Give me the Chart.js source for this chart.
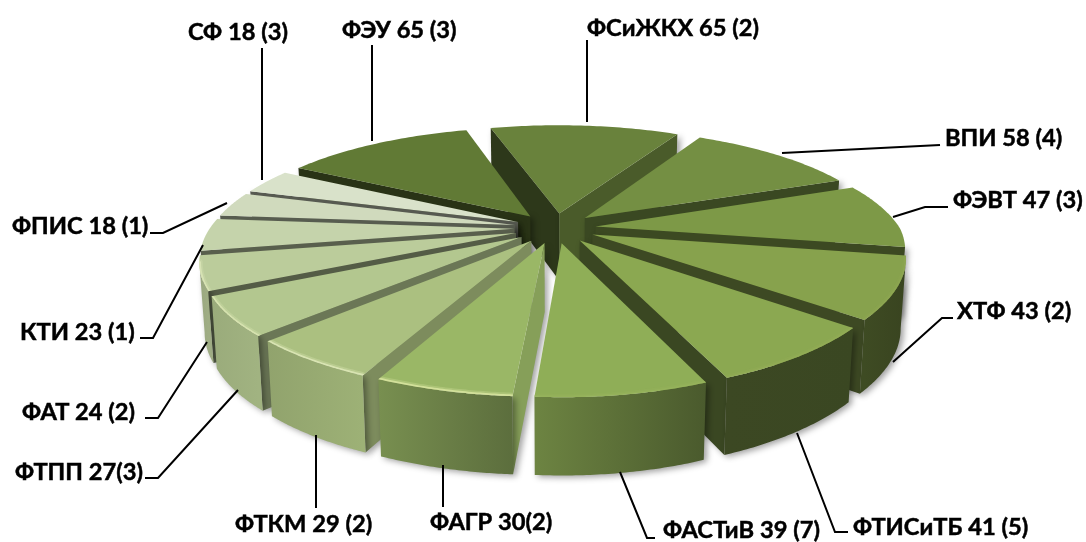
<!DOCTYPE html>
<html lang="ru">
<head>
<meta charset="UTF-8">
<title>Факультеты</title>
<script src="https://cdn.jsdelivr.net/npm/chart.js"></script>
<style>
  html, body { margin: 0; padding: 0; background: #fff; }
  canvas { display: block; }
</style>
</head>
<body>
<canvas id="pie3d" width="1086" height="542"></canvas>
<script>
// clockwise from the top slice
const categories = ["ФСиЖКХ", "ВПИ", "ФЭВТ", "ХТФ", "ФТИСиТБ", "ФАСТиВ", "ФАГР", "ФТКМ", "ФТПП", "ФАТ", "КТИ", "ФПИС", "СФ", "ФЭУ"];
const values = [65, 58, 47, 43, 41, 39, 30, 29, 27, 24, 23, 18, 18, 65];
const labels = ["ФСиЖКХ 65 (2)", "ВПИ 58 (4)", "ФЭВТ 47 (3)", "ХТФ 43 (2)", "ФТИСиТБ 41 (5)", "ФАСТиВ 39 (7)", "ФАГР 30(2)", "ФТКМ 29 (2)", "ФТПП 27(3)", "ФАТ 24 (2)", "КТИ 23 (1)", "ФПИС 18 (1)", "СФ 18 (3)", "ФЭУ 65 (3)"];
const colors = ["#69823c", "#748f43", "#7d9947", "#87a24d", "#8ba851", "#8fae57", "#9ab766", "#abc080", "#b3c78f", "#bbcc9b", "#c5d3ab", "#d0dabd", "#d9e2ca", "#617a35"];

// wall shades as a factor of the slice colour: start edge, end edge, outer left, outer right
const wallShades = [
  [0.43, 0.70, 0.6, 0.6], [0.5, 0.5, 0.5, 0.5], [0.48, 0.48, 0.48, 0.48], [0.45, 0.45, 0.46, 0.42],
  [0.45, 0.42, 0.43, 0.42], [0.6, 0.6, 0.76, 0.52], [0.87, 0.8, 0.78, 0.60], [0.73, 0.8, 0.85, 0.92],
  [0.6, 0.8, 0.86, 0.9], [0.45, 0.8, 0.82, 0.85], [0.45, 0.8, 0.8, 0.82], [0.42, 0.8, 0.8, 0.8],
  [0.4, 0.8, 0.8, 0.8], [0.42, 0.42, 0.42, 0.42]
];
const rimGlow = ["", "", "", "#8ea653", "#93ad57", "#97b35c", "#e2edaa", "#e6eec0", "#e0eab8", "#dfe9bb", "#dde6c4", "", "", ""];

// label text position (left, baseline) and leader line for each slice
const labelPos = [[587, 36], [945, 146], [953, 208], [957, 319], [853, 535], [663, 538], [430, 530], [235, 532], [15, 480], [22, 420], [20, 340], [12, 234], [188, 40], [342, 38]];
const leaders = [
  [[587, 40], [587, 122]], [[940, 145], [782, 153]], [[948, 207], [925, 207], [893, 217]],
  [[953, 318], [942, 318], [893, 362]], [[848, 532], [835, 532], [797, 433]], [[655, 538], [647, 538], [620, 472]],
  [[443, 507], [443, 465]], [[316, 508], [316, 435]], [[145, 478], [158, 478], [238, 390]],
  [[145, 418], [158, 418], [207, 342]], [[140, 338], [153, 338], [203, 245]], [[150, 233], [163, 233], [227, 203]],
  [[262, 48], [262, 180]], [[372, 45], [372, 141]]
];

// screen projection of the flat pie
const CX = 555, CY = 228, A = 345, B = 128, PERSP = 0.245, PERSP_RIGHT = 0.2, DEPTH = 68;

function project(u, v, down) {
  const s = 1 / (1 - PERSP * v);
  // front right side of the original is a bit narrower than the left
  const sx = (u > 0 && v > 0) ? 1 / (1 - PERSP_RIGHT * v) : s;
  const k = down ? 0.985 : 1;
  return {
    x: CX + u * A * sx * k,
    y: CY + v * B * s + (down ? DEPTH * Math.sqrt(s) : 0)
  };
}

function shade(hex, f) {
  const n = parseInt(hex.slice(1), 16);
  const c = [n >> 16, (n >> 8) & 255, n & 255].map(v => Math.min(255, Math.round(v * f)));
  return `rgb(${c[0]},${c[1]},${c[2]})`;
}

function fillPoly(ctx, pts, fill) {
  ctx.beginPath();
  pts.forEach((p, i) => i ? ctx.lineTo(p.x, p.y) : ctx.moveTo(p.x, p.y));
  ctx.closePath();
  ctx.fillStyle = fill;
  ctx.fill();
}

function drawSlice(ctx, arc, i) {
  const { startAngle, endAngle, outerRadius } = arc.getProps(["startAngle", "endAngle", "outerRadius"]);
  const off = arc.options.offset;
  const unit = outerRadius + off;
  const mid = (startAngle + endAngle) / 2;
  // apex in unit coordinates
  const ax = Math.cos(mid) * off / unit, ay = Math.sin(mid) * off / unit;
  const r = outerRadius / unit;
  const rimU = [];
  const steps = 48;
  for (let k = 0; k <= steps; k++) {
    const t = startAngle + (endAngle - startAngle) * k / steps;
    rimU.push([ax + r * Math.cos(t), ay + r * Math.sin(t)]);
  }
  const top = rimU.map(p => project(p[0], p[1], false));
  const bot = rimU.map(p => project(p[0], p[1], true));
  const apexT = project(ax, ay, false), apexB = project(ax, ay, true);
  const color = colors[i], sh = wallShades[i];

  ctx.save();
  ctx.shadowColor = "rgba(0,0,0,0.38)";
  ctx.shadowBlur = 6;
  ctx.shadowOffsetX = 3;
  ctx.shadowOffsetY = 2;

  // side walls, only when they face the viewer
  if (top[0].x < apexT.x) {
    fillPoly(ctx, [apexT, top[0], bot[0], apexB], shade(color, sh[0]));
  }
  if (apexT.x < top[steps].x) {
    fillPoly(ctx, [top[steps], apexT, apexB, bot[steps]], shade(color, sh[1]));
  }

  // visible part of the outer wall
  const vis = [];
  for (let k = 0; k < steps; k++) {
    if (top[k + 1].x < top[k].x) vis.push(k, k + 1);
  }
  if (vis.length) {
    const a = Math.min(...vis), b = Math.max(...vis);
    const grad = ctx.createLinearGradient(top[b].x, 0, top[a].x, 0);
    grad.addColorStop(0, shade(color, sh[2]));
    grad.addColorStop(1, shade(color, sh[3]));
    fillPoly(ctx, top.slice(a, b + 1).concat(bot.slice(a, b + 1).reverse()), grad);
  }
  ctx.restore();

  fillPoly(ctx, [apexT].concat(top), color);

  // bevel along the front rim
  if (rimGlow[i] && vis.length) {
    const a = Math.min(...vis), b = Math.max(...vis);
    ctx.save();
    ctx.beginPath();
    ctx.moveTo(apexT.x, apexT.y);
    top.forEach(p => ctx.lineTo(p.x, p.y));
    ctx.closePath();
    ctx.clip();
    ctx.strokeStyle = rimGlow[i];
    ctx.lineCap = "round";
    [[7, 0.25], [3.5, 0.7]].forEach(([w, al]) => {
      ctx.globalAlpha = al;
      ctx.lineWidth = w;
      ctx.beginPath();
      top.slice(a, b + 1).forEach((p, k) => k ? ctx.lineTo(p.x, p.y) : ctx.moveTo(p.x, p.y));
      ctx.stroke();
    });
    ctx.restore();
  }
}

const pie3d = {
  id: "pie3d",
  beforeDatasetsDraw(chart) {
    const ctx = chart.ctx;
    const arcs = chart.getDatasetMeta(0).data;
    // back to front
    const order = arcs.map((arc, i) => i).sort((a, b) => {
      const m = i => (arcs[i].startAngle + arcs[i].endAngle) / 2;
      return Math.sin(m(a)) - Math.sin(m(b));
    });
    order.forEach(i => drawSlice(ctx, arcs[i], i));
    return false;
  },
  afterDraw(chart) {
    const ctx = chart.ctx;
    ctx.save();
    ctx.strokeStyle = "#000";
    ctx.lineWidth = 2;
    leaders.forEach(line => {
      ctx.beginPath();
      line.forEach((p, i) => i ? ctx.lineTo(p[0], p[1]) : ctx.moveTo(p[0], p[1]));
      ctx.stroke();
    });
    ctx.fillStyle = "#000";
    ctx.lineWidth = 0.5;
    ctx.font = "bold 23.7px Lato, 'Open Sans', sans-serif";
    ctx.textBaseline = "alphabetic";
    labels.forEach((t, i) => {
      ctx.fillText(t, labelPos[i][0], labelPos[i][1]);
      ctx.strokeText(t, labelPos[i][0], labelPos[i][1]);
    });
    ctx.restore();
  }
};

new Chart(document.getElementById("pie3d"), {
  type: "pie",
  data: {
    labels: categories,
    datasets: [{ data: values, backgroundColor: colors, offset: 34, borderWidth: 0 }]
  },
  options: {
    responsive: false,
    animation: false,
    rotation: -16,
    plugins: { legend: { display: false }, tooltip: { enabled: false } }
  },
  plugins: [pie3d]
});
</script>
</body>
</html>
